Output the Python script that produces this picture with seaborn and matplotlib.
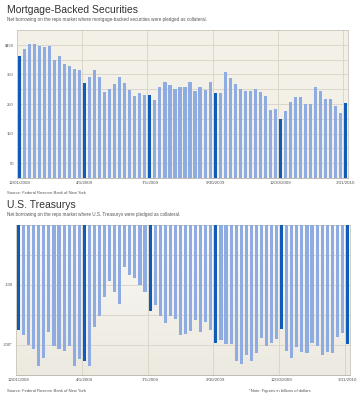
import numpy as np
import pandas as pd
import matplotlib
matplotlib.use("Agg")
import matplotlib.pyplot as plt
from matplotlib.colors import LinearSegmentedColormap
import seaborn as sns

# ---------------- data ----------------
mbs_values = [413, 436, 453, 453, 445, 443, 446, 397, 411, 386, 380, 369, 364,
              321, 340, 366, 342, 289, 299, 316, 341, 320, 298, 278, 288, 279,
              282, 265, 308, 323, 313, 302, 306, 307, 325, 295, 306, 298, 325,
              288, 287, 359, 338, 318, 299, 293, 293, 301, 289, 278, 231, 234,
              201, 225, 257, 274, 274, 249, 249, 306, 293, 267, 267, 244, 221,
              252]
treasury_values = [-175, -183, -200, -207, -235, -221, -179, -201, -207, -210, -201, -235, -223,
                   -226, -235, -170, -152, -120, -94, -111, -131, -70, -84, -89, -100, -111,
                   -143, -134, -151, -163, -152, -157, -183, -182, -176, -158, -179, -161, -175,
                   -197, -192, -199, -199, -227, -231, -217, -227, -213, -189, -202, -197, -190,
                   -174, -210, -221, -203, -212, -213, -197, -202, -216, -212, -214, -186, -180,
                   -199]
quarter_start_idx = [0, 13, 26, 39, 52, 65]
date_labels = ["12/01/2008", "4/1/2009", "7/1/2009", "9/30/2009", "12/30/2009", "3/31/2010"]
mbs_yticks = [50, 150, 250, 350, 450]
mbs_yticklabels = ["50", "150", "250", "350", "$450"]
mbs_grid = [50, 100, 150, 200, 250, 300, 350, 400, 450]
tsy_yticks = [-100, -200]
tsy_yticklabels = ["-100", "-200*"]
tsy_grid = [-50, -100, -150, -200]

LIGHT = "#8EABE2"
DARK = "#0F5CB8"
BEIGE = "#F3F0E7"
GRID = "#D8D3C8"
SPINE = "#C9C5BA"
TXT = "#333333"
SMALL = "#555555"

sns.set_theme(style="white")
plt.rcParams['font.family'] = ['Liberation Sans', 'DejaVu Sans']

W, H = 363, 400
fig = plt.figure(figsize=(W / 100, H / 100), dpi=100)
fig.patch.set_facecolor("white")
ax1 = fig.add_axes([17 / W, 1 - 178 / H, 331 / W, 148 / H])
ax2 = fig.add_axes([16 / W, 1 - 375 / H, 334 / W, 150 / H])


def draw(ax, values, ylim, grid, yticks, yticklabels):
    n = len(values)
    kind = ['q' if i in quarter_start_idx else 'w' for i in range(n)]
    df = pd.DataFrame({'week': list(range(n)), 'value': values, 'kind': kind})
    sns.barplot(data=df, x='week', y='value', hue='kind',
                palette={'q': DARK, 'w': LIGHT}, dodge=False, width=0.62,
                saturation=1, errorbar=None, legend=False, ax=ax, zorder=3,
                linewidth=0)
    for g in grid:
        ax.axhline(g, color=GRID, lw=0.6, zorder=1)
    for q in quarter_start_idx[1:]:
        ax.axvline(q - 0.5, color=GRID, lw=0.6, zorder=1)
    ax.set_xlim(-0.5, n - 0.5)
    ax.set_ylim(*ylim)
    ax.set_xticks(quarter_start_idx)
    ax.set_xticklabels(date_labels, fontsize=3.2, color=SMALL)
    ax.set_yticks(yticks)
    ax.set_yticklabels(yticklabels, fontsize=3.0, color=SMALL)
    ax.tick_params(length=0, pad=2.2)
    ax.set_xlabel("")
    ax.set_ylabel("")
    for s in ax.spines.values():
        s.set_visible(True)
        s.set_color(SPINE)
        s.set_linewidth(0.6)
    ax.spines['bottom'].set_color("#B5B1A7")


ax1.set_facecolor(BEIGE)
draw(ax1, mbs_values, (0, 500), mbs_grid, mbs_yticks, mbs_yticklabels)

cmap = LinearSegmentedColormap.from_list("bg", ["#FBFAF7", "#ECE9E0"])
ax2.imshow(np.linspace(0, 1, 256).reshape(-1, 1), cmap=cmap, aspect='auto',
           extent=(-0.5, len(treasury_values) - 0.5, -250, 0), zorder=0)
draw(ax2, treasury_values, (-250, 0), tsy_grid, tsy_yticks, tsy_yticklabels)

# ---------------- texts ----------------
def ftext(x, y, s, size, color, va='center', **kw):
    fig.text(x / W, 1 - y / H, s, fontsize=size, color=color, va=va, ha='left', **kw)

ftext(7, 12.8, "Mortgage-Backed Securities", 7.5, TXT, va='baseline')
ftext(7, 19, "Net borrowing on the repo market where mortgage-backed securities were pledged as collateral.", 3.35, SMALL)
ftext(7, 193.3, "Source: Federal Reserve Bank of New York", 3.0, SMALL)
ftext(7, 208, "U.S. Treasurys", 7.5, TXT, va='baseline')
ftext(7, 214.5, "Net borrowing on the repo market where U.S. Treasurys were pledged as collateral.", 3.35, SMALL)
ftext(7, 391, "Source: Federal Reserve Bank of New York", 3.0, SMALL)
ftext(249, 391, "*Note: Figures in billions of dollars", 2.95, SMALL)

fig.savefig("out.png", dpi=100)
